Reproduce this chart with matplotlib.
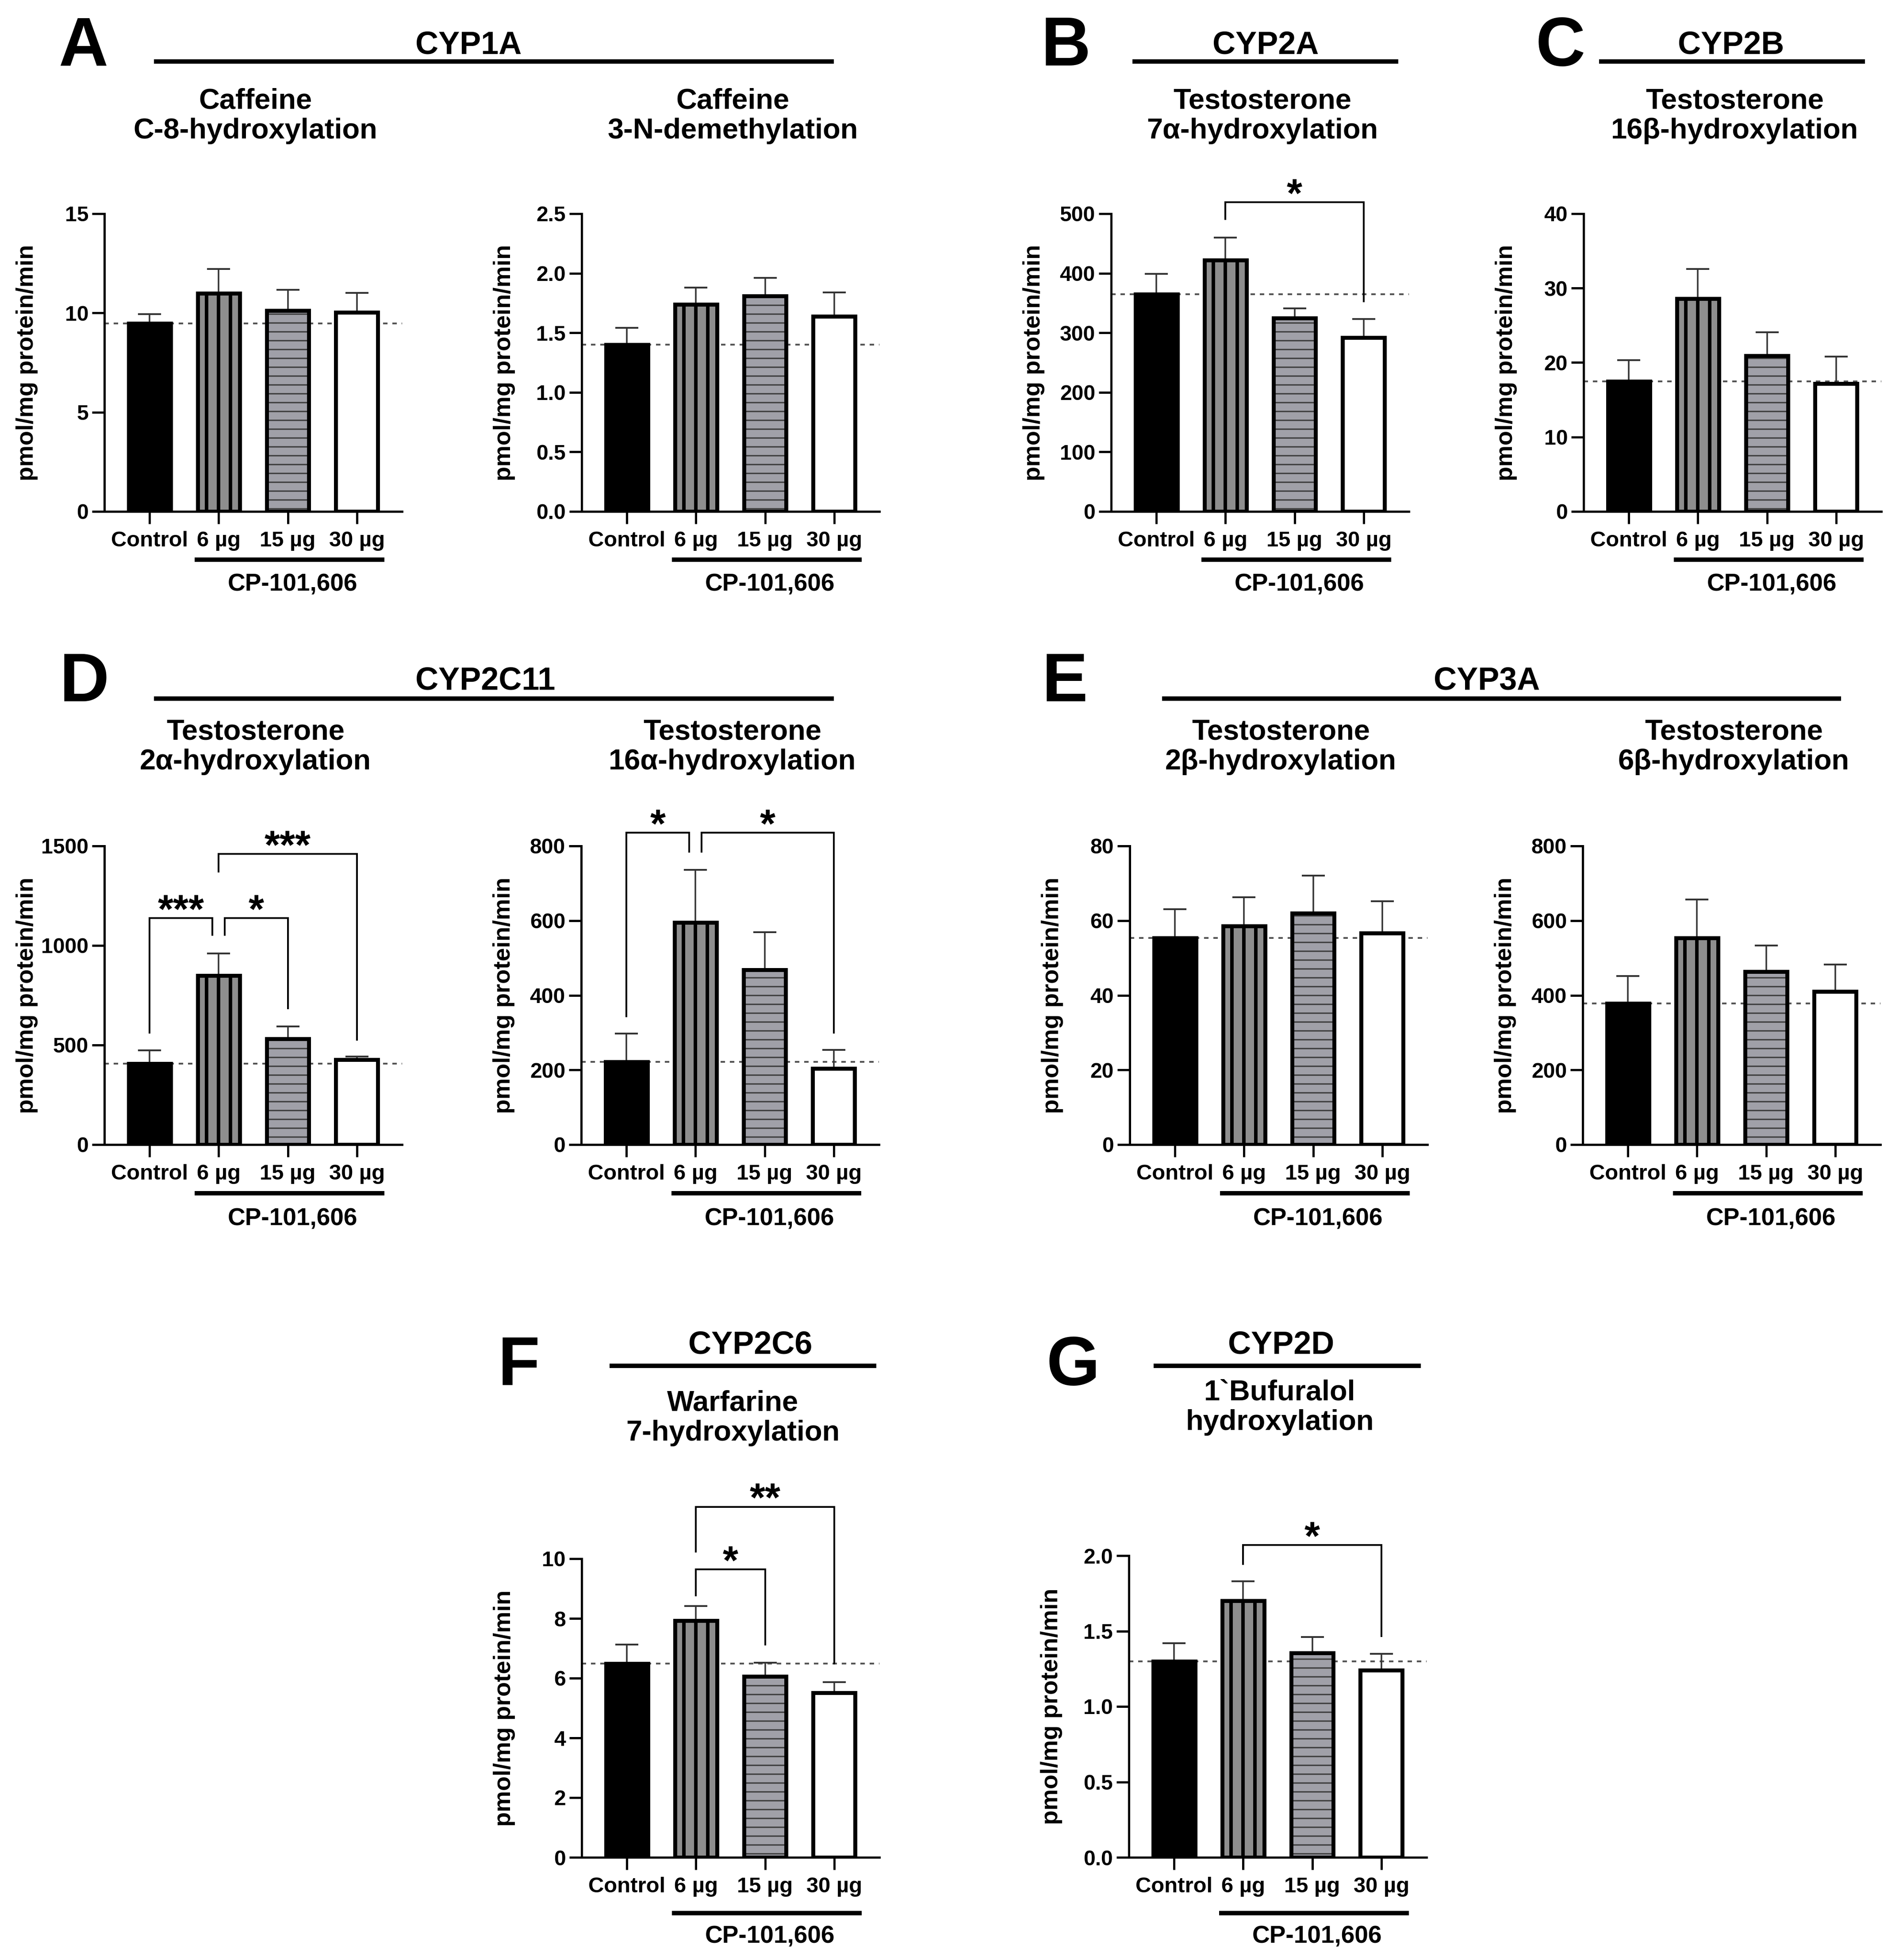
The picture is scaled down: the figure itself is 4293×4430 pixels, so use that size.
import numpy as np
import matplotlib
matplotlib.use("Agg")
import matplotlib.pyplot as plt
from matplotlib.lines import Line2D
from matplotlib.transforms import blended_transform_factory

DPI = 120
W, H = 4293, 4430


def pt(px):
    return px * 72 / DPI


def fx(x):
    return x / W


def fy(y):
    return 1 - y / H


groups = ["Control", "6 µg", "15 µg", "30 µg"]

# CYP1A
c8_mean = [9.47, 10.98, 10.13, 10.02]
c8_sem = [0.46, 1.24, 1.03, 0.98]
n3_mean = [1.40, 1.74, 1.81, 1.64]
n3_sem = [0.14, 0.14, 0.15, 0.20]
# CYP2A
t7a_mean = [365, 422, 325, 292]
t7a_sem = [34, 38, 16, 31]
# CYP2B
t16b_mean = [17.5, 28.6, 20.9, 17.15]
t16b_sem = [2.8, 4.0, 3.2, 3.65]
# CYP2C11
t2a_mean = [407, 850, 532, 427]
t2a_sem = [66, 110, 62, 16]
t16a_mean = [222, 595, 468, 204]
t16a_sem = [75, 141, 101, 50]
# CYP3A
t2b_mean = [55.4, 58.6, 62.0, 56.7]
t2b_sem = [7.6, 7.6, 10.1, 8.5]
t6b_mean = [378, 554, 464, 410]
t6b_sem = [74, 103, 69, 72]
# CYP2C6
w7_mean = [6.49, 7.92, 6.06, 5.51]
w7_sem = [0.63, 0.50, 0.46, 0.35]
# CYP2D
buf_mean = [1.30, 1.70, 1.355, 1.24]
buf_sem = [0.12, 0.13, 0.105, 0.11]

# significance: (group a, group b, bracket height, leg end a, leg end b, label)
t7a_sig = [(1, 3, 519, 491, 353, "*")]
t2a_sig = [(0, 1, 1138, 562, 1053, "***"), (1, 2, 1138, 1053, 685, "*"),
           (1, 3, 1460, 1371, 527, "***")]
t16a_sig = [(0, 1, 835, 344, 784, "*"), (1, 3, 835, 784, 300, "*")]
w7_sig = [(1, 2, 9.64, 8.77, 7.12, "*"), (1, 3, 11.74, 10.24, 6.49, "**")]
buf_sig = [(1, 3, 2.07, 1.945, 1.466, "*")]

plt.rcParams["font.family"] = ["Liberation Sans", "DejaVu Sans"]
plt.rcParams["font.weight"] = "bold"
plt.rcParams["axes.labelweight"] = "bold"
plt.rcParams["hatch.linewidth"] = pt(3)

AXW = 673
XL = (-0.655, 3.655)
BW = 0.61
under_off = [109, 110, 126]
cp_off = [166, 168, 180]

# left, top, bottom, row, title, title y, mean, sem, ymax, step, decimals, sig
panels = [
    (236, 483, 1156, 0, "Caffeine\nC-8-hydroxylation", 262, c8_mean, c8_sem, 15, 5, 0, []),
    (1315, 483, 1156, 0, "Caffeine\n3-N-demethylation", 262, n3_mean, n3_sem, 2.5, 0.5, 1, []),
    (2512, 483, 1156, 0, "Testosterone\n7α-hydroxylation", 262, t7a_mean, t7a_sem, 500, 100, 0, t7a_sig),
    (3580, 483, 1156, 0, "Testosterone\n16β-hydroxylation", 262, t16b_mean, t16b_sem, 40, 10, 0, []),
    (236, 1912, 2587, 1, "Testosterone\n2α-hydroxylation", 1688, t2a_mean, t2a_sem, 1500, 500, 0, t2a_sig),
    (1314, 1912, 2587, 1, "Testosterone\n16α-hydroxylation", 1688, t16a_mean, t16a_sem, 800, 200, 0, t16a_sig),
    (2554, 1912, 2587, 1, "Testosterone\n2β-hydroxylation", 1688, t2b_mean, t2b_sem, 80, 20, 0, []),
    (3578, 1912, 2587, 1, "Testosterone\n6β-hydroxylation", 1688, t6b_mean, t6b_sem, 800, 200, 0, []),
    (1315, 3523, 4198, 2, "Warfarine\n7-hydroxylation", 3205, w7_mean, w7_sem, 10, 2, 0, w7_sig),
    (2552, 3516, 4198, 2, "1`Bufuralol\nhydroxylation", 3181, buf_mean, buf_sem, 2.0, 0.5, 1, buf_sig),
]

# letter, letter x, baseline, name, name x, baseline, line x0, x1, line y
headers = [
    ("A", 188, 148, "CYP1A", 1059, 121, 348, 1885, 139),
    ("B", 2410, 148, "CYP2A", 2861, 121, 2560, 3161, 139),
    ("C", 3528, 148, "CYP2B", 3913, 121, 3615, 4216, 139),
    ("D", 191, 1585, "CYP2C11", 1097, 1559, 348, 1885, 1579),
    ("E", 2407, 1585, "CYP3A", 3361, 1559, 2627, 4162, 1579),
    ("F", 1173, 3130, "CYP2C6", 1696, 3059, 1378, 1981, 3087),
    ("G", 2426, 3130, "CYP2D", 2896, 3059, 2608, 3212, 3087),
]

fig = plt.figure(figsize=(W / DPI, H / DPI), dpi=DPI)
fig.patch.set_facecolor("white")


def draw_panel(left, top, bottom, row, title, ty, mean, sem, ymax, step, dec, sig):
    hpx = bottom - top
    ax = fig.add_axes([fx(left), fy(bottom), AXW / W, hpx / H])
    x = np.arange(len(groups))

    ax.axhline(mean[0], color="#555555", lw=pt(4), ls=(0, (2.5, 2.75)), zorder=1)
    ax.errorbar(x, mean, yerr=[np.zeros(len(sem)), sem], fmt="none", ecolor="#333333",
                elinewidth=pt(3.5), capsize=pt(26), capthick=pt(4), zorder=1.5)

    ax.bar(x[0], mean[0], BW, color="black", lw=0, zorder=2)
    ax.bar(x[1], mean[1], BW, color="#8e8e8e", lw=0, zorder=2)
    ax.vlines([x[1] - 0.173, x[1], x[1] + 0.173], 0, mean[1], color="black", lw=pt(8), zorder=2.2)
    ax.bar(x[2], mean[2], BW, color="#a0a0a8", edgecolor="#3a3a3a", hatch="-", lw=0, zorder=2)
    ax.bar(x[3], mean[3], BW, color="white", lw=0, zorder=2)
    ax.bar(x, mean, BW, fill=False, edgecolor="black", lw=pt(9), zorder=2.5)

    ax.set_xlim(*XL)
    ax.set_ylim(0, ymax)
    ticks = np.arange(0, ymax + step / 2, step)
    ax.set_yticks(ticks)
    if dec:
        ax.set_yticklabels([f"{t:.1f}" for t in ticks])
    else:
        ax.set_yticklabels([f"{t:.0f}" for t in ticks])
    ax.set_xticks(x)
    ax.set_xticklabels(groups)
    for s in ["top", "right"]:
        ax.spines[s].set_visible(False)
    for s in ["left", "bottom"]:
        ax.spines[s].set_linewidth(pt(5))
    ax.tick_params(axis="both", direction="out", length=pt(28), width=pt(5))
    ax.tick_params(axis="y", labelsize=pt(48), pad=pt(8))
    ax.tick_params(axis="x", labelsize=pt(49), pad=pt(16))
    ax.set_ylabel("pmol/mg protein/min", fontsize=pt(54), va="center")
    ax.yaxis.set_label_coords(-175 / AXW, 0.5)

    tr = blended_transform_factory(ax.transData, ax.transAxes)
    yu = -under_off[row] / hpx
    ax.plot([1 - 0.35, 3 + 0.40], [yu, yu], color="black", lw=pt(10),
            solid_capstyle="butt", transform=tr, clip_on=False)
    ax.text(2.07, -cp_off[row] / hpx, "CP-101,606", transform=tr, ha="center", va="center",
            fontsize=pt(55))

    fig.text(fx(left + AXW / 2 + 5), fy(ty), title, ha="center", va="center",
             fontsize=pt(65), linespacing=1.15)

    for a, b, yb, ya, yc, lab in sig:
        xa, xb = a, b
        for o in sig:
            if o[2] == yb and o[0] == b:
                xb -= 0.09
            if o[2] == yb and o[1] == a:
                xa += 0.09
        ax.plot([xa, xa, xb, xb], [ya, yb, yb, yc], color="black", lw=pt(4),
                clip_on=False, solid_joinstyle="miter", zorder=3)
        ax.annotate(lab, xy=((xa + xb) / 2, yb), xytext=(0, pt(-10)), textcoords="offset points",
                    ha="center", va="baseline", fontsize=pt(90), annotation_clip=False)
    return ax


for p in panels:
    draw_panel(*p)

for letter, lx, ly, name, nx, ny, x0, x1, yl in headers:
    fig.text(fx(lx), fy(ly), letter, ha="center", va="baseline", fontsize=pt(155))
    fig.text(fx(nx), fy(ny), name, ha="center", va="baseline", fontsize=pt(72))
    fig.add_artist(Line2D([fx(x0), fx(x1)], [fy(yl), fy(yl)], color="black", lw=pt(10),
                          solid_capstyle="butt", transform=fig.transFigure))

fig.savefig("out.png", dpi=DPI)
